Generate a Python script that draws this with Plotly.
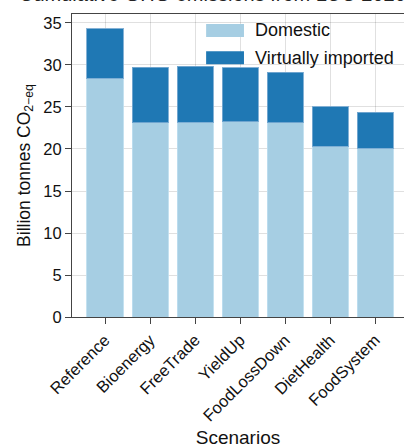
import plotly.graph_objects as go

# Cumulative land-use emissions by scenario (billion tonnes CO2-eq)
scenarios = ["Reference", "Bioenergy", "FreeTrade", "YieldUp",
             "FoodLossDown", "DietHealth", "FoodSystem"]
domestic = [28.4, 23.1, 23.2, 23.25, 23.1, 20.35, 20.1]
virtually_imported = [5.9, 6.65, 6.65, 6.4, 6.05, 4.65, 4.25]

c_dom = "#a6cee3"
c_imp = "#1f78b4"
font_family = "Liberation Sans, Arial, sans-serif"

fig = go.Figure()
fig.add_trace(go.Bar(
    x=scenarios, y=domestic, name="Domestic",
    marker=dict(color=c_dom, line=dict(color="rgba(190,222,238,0.9)", width=1)),
    width=0.8, showlegend=False,
))
fig.add_trace(go.Bar(
    x=scenarios, y=virtually_imported, name="Virtually imported",
    marker=dict(color=c_imp, line=dict(color="rgba(120,170,210,0.9)", width=1)),
    width=0.8, showlegend=False,
))

# Legend drawn as swatches with labels
legend_items = [("Domestic", c_dom), ("Virtually imported", c_imp)]
for i, (label, color) in enumerate(legend_items):
    y_top = 0.967 - i * 0.09
    fig.add_shape(type="rect", xref="paper", yref="paper",
                  x0=0.404, x1=0.518, y0=y_top - 0.043, y1=y_top,
                  fillcolor=color, line=dict(width=0), layer="above")
    fig.add_annotation(x=0.545, y=y_top - 0.021, xref="paper", yref="paper",
                       text=label, showarrow=False, xanchor="left",
                       yanchor="middle",
                       font=dict(size=18, color="#111", family=font_family))

# Chart heading, sitting above the plot frame
fig.add_annotation(x=0.5, y=1.024, xref="paper", yref="paper",
                   text="Cumulative GHG emissions from LUC 2020-2050",
                   showarrow=False, xanchor="center", yanchor="bottom",
                   font=dict(size=20, color="#222", family=font_family))

fig.update_layout(
    barmode="stack",
    width=404, height=448,
    margin=dict(l=72, r=0, t=14, b=129),
    plot_bgcolor="white", paper_bgcolor="white",
    font=dict(family=font_family, color="#111"),
    xaxis=dict(
        range=[-0.733, 6.64],
        tickangle=-45,
        tickfont=dict(size=16.5),
        ticks="outside", ticklen=6, tickcolor="#444",
        showline=True, linecolor="#444", linewidth=1, mirror=True,
        showgrid=True, gridcolor="rgba(0,0,0,0.12)", gridwidth=1,
        layer="above traces",
        title=dict(text="Scenarios", font=dict(size=19), standoff=10),
    ),
    yaxis=dict(
        range=[0, 36.07],
        tickvals=[0, 5, 10, 15, 20, 25, 30, 35],
        tickfont=dict(size=16.5),
        ticks="outside", ticklen=6, tickcolor="#444",
        showline=True, linecolor="#444", linewidth=1,
        showgrid=True, gridcolor="rgba(0,0,0,0.12)", gridwidth=1,
        zeroline=False,
        layer="above traces",
        title=dict(text="Billion tonnes CO<sub>2\u2212eq</sub>",
                   font=dict(size=17.5), standoff=8),
    ),
)

fig.write_html("out.html")
